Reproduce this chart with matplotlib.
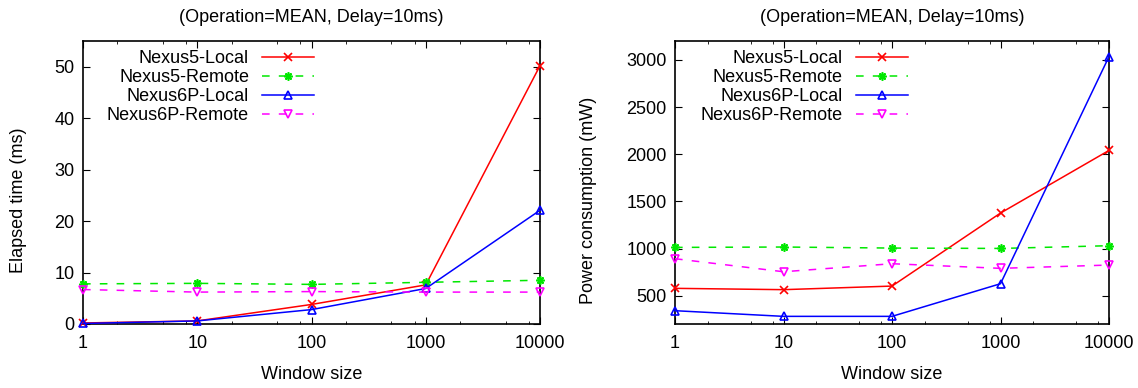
import matplotlib as mpl
mpl.use("Agg")
import matplotlib.pyplot as plt
import matplotlib.ticker as mticker
import matplotlib.transforms as mtransforms

WINDOW = [1, 10, 100, 1000, 10000]
SERIES = ["Nexus5-Local", "Nexus5-Remote", "Nexus6P-Local", "Nexus6P-Remote"]

ELAPSED_N5_LOCAL = [0.2, 0.6, 3.8, 7.6, 50.2]
ELAPSED_N5_REMOTE = [7.8, 7.9, 7.7, 8.1, 8.5]
ELAPSED_N6P_LOCAL = [0.1, 0.6, 2.8, 6.9, 22.1]
ELAPSED_N6P_REMOTE = [6.7, 6.2, 6.3, 6.2, 6.2]

POWER_N5_LOCAL = [578, 564, 602, 1376, 2040]
POWER_N5_REMOTE = [1012, 1016, 1005, 1001, 1030]
POWER_N6P_LOCAL = [341, 281, 281, 627, 3035]
POWER_N6P_REMOTE = [892, 754, 839, 790, 825]

STYLES = {
    "Nexus5-Local": dict(color="#FF0000", marker="x", ls="-"),
    "Nexus5-Remote": dict(color="#00E800", marker=(8, 2, 0), ls=(0, (5, 6))),
    "Nexus6P-Local": dict(color="#0000FF", marker="^", ls="-"),
    "Nexus6P-Remote": dict(color="#FF00FF", marker="v", ls=(0, (5, 6))),
}

mpl.rcParams.update(
    {
        "font.family": ["Liberation Sans", "DejaVu Sans"],
        "font.size": 13,
        "axes.linewidth": 1.2,
        "xtick.direction": "in",
        "ytick.direction": "in",
        "xtick.top": True,
        "ytick.right": True,
        "xtick.major.size": 5,
        "ytick.major.size": 5,
        "xtick.minor.size": 2.5,
        "xtick.major.pad": 8,
        "ytick.major.pad": 6,
    }
)


def draw_panel(ax, series_values, ylabel, ylim, yticks, legend_dx, ylabel_x):
    for name, values in zip(SERIES, series_values):
        st = STYLES[name]
        ax.plot(
            WINDOW, values, color=st["color"], ls=st["ls"], lw=1.1,
            marker=st["marker"], ms=6, mfc="none", mew=1.2,
            label=name, clip_on=False, zorder=3,
        )
    ax.set_xscale("log")
    ax.set_xlim(1, 10000)
    ax.xaxis.set_major_locator(mticker.FixedLocator(WINDOW))
    ax.xaxis.set_major_formatter(mticker.FixedFormatter([str(w) for w in WINDOW]))
    ax.xaxis.set_minor_locator(mticker.LogLocator(base=10, subs=[2, 5, 8]))
    ax.xaxis.set_minor_formatter(mticker.NullFormatter())
    ax.set_ylim(*ylim)
    ax.set_yticks(yticks)
    ax.set_xlabel("Window size", labelpad=10)
    ax.set_ylabel(ylabel)
    ax.yaxis.set_label_coords(ylabel_x, 0.438)
    ax.set_title("(Operation=MEAN, Delay=10ms)", pad=14, fontsize=13)
    offset = mtransforms.offset_copy(ax.transAxes, fig=ax.figure, x=legend_dx / 100, y=-0.09, units="inches")
    ax.legend(
        loc="upper right", bbox_to_anchor=(0, 1), bbox_transform=offset,
        frameon=False, markerfirst=False, handlelength=2.9, handletextpad=0.7,
        labelspacing=0.11, borderpad=0, borderaxespad=0, fontsize=13,
    )


fig = plt.figure(figsize=(11.38, 3.88), dpi=100)
ax1 = fig.add_axes([83 / 1138, 64 / 388, 457 / 1138, 283 / 388])
ax2 = fig.add_axes([675 / 1138, 64 / 388, 434 / 1138, 283 / 388])

draw_panel(
    ax1,
    [ELAPSED_N5_LOCAL, ELAPSED_N5_REMOTE, ELAPSED_N6P_LOCAL, ELAPSED_N6P_REMOTE],
    "Elapsed time (ms)", (0, 55), [0, 10, 20, 30, 40, 50], 231, -0.1225,
)
draw_panel(
    ax2,
    [POWER_N5_LOCAL, POWER_N5_REMOTE, POWER_N6P_LOCAL, POWER_N6P_REMOTE],
    "Power consumption (mW)", (200, 3200), [500, 1000, 1500, 2000, 2500, 3000], 233, -0.18,
)

fig.savefig("out.png", dpi=100)
